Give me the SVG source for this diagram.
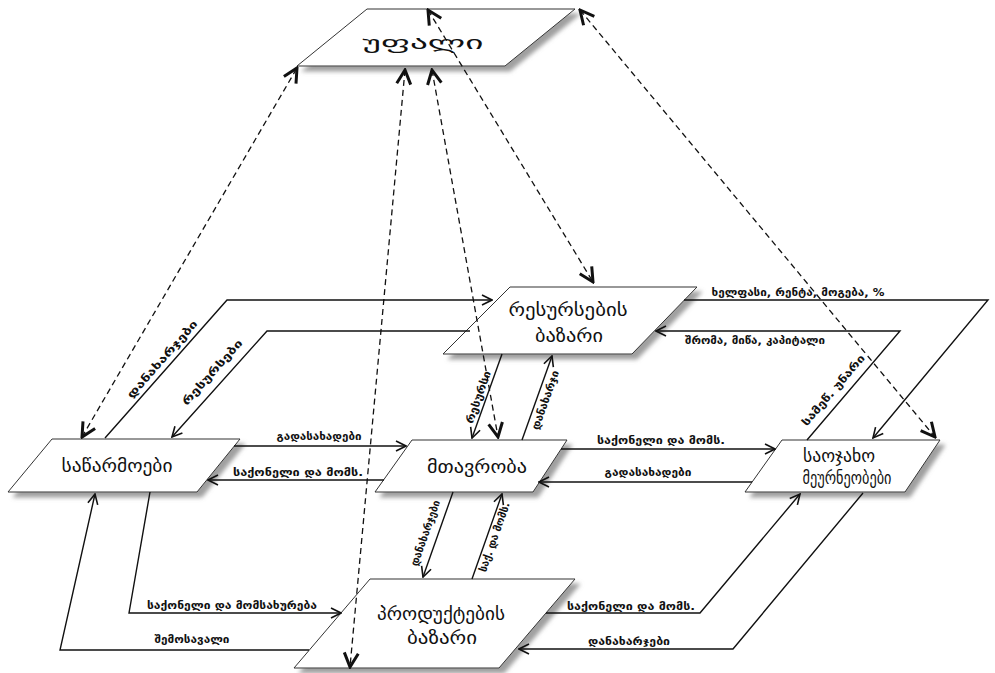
<svg xmlns="http://www.w3.org/2000/svg" width="995" height="673" viewBox="0 0 995 673">
<defs>
<style>
.node{fill:#fff;stroke:#333;stroke-width:1;filter:url(#sh)}
.nl{font-family:"DejaVu Sans",sans-serif;font-size:18px;fill:#111;text-anchor:middle}
.el{font-family:"DejaVu Sans",sans-serif;font-size:10.5px;font-weight:bold;fill:#111;text-anchor:middle}
.s{fill:none;stroke:#111;stroke-width:1.4;marker-end:url(#ah)}
.d{fill:none;stroke:#111;stroke-width:1.3;stroke-dasharray:6 4;marker-start:url(#bh);marker-end:url(#bh)}
</style>
<filter id="sh" x="-10%" y="-10%" width="130%" height="140%">
<feDropShadow dx="5" dy="5" stdDeviation="2" flood-color="#888" flood-opacity="0.8"/>
</filter>
<marker id="ah" viewBox="0 0 12 12" refX="11" refY="6" markerWidth="12" markerHeight="12" markerUnits="userSpaceOnUse" orient="auto">
<path d="M1,1 L11,6 L1,11" fill="none" stroke="#111" stroke-width="1.6"/>
</marker>
<marker id="bh" viewBox="0 0 18 18" refX="16" refY="9" markerWidth="18" markerHeight="18" markerUnits="userSpaceOnUse" orient="auto-start-reverse">
<path d="M2,2 L16,9 L2,16" fill="none" stroke="#111" stroke-width="3"/>
</marker>
</defs>
<rect width="995" height="673" fill="#fff"/>

<g id="node-upali">
<polygon class="node" points="367,9 575,9 505,66 297,66"/>
<text class="nl" x="423" y="49" font-size="31" textLength="121" lengthAdjust="spacingAndGlyphs">უფალი</text>
</g>
<g id="node-resource-market">
<polygon class="node" points="510,287 697,287 632,354 443,354"/>
<text class="nl" x="568" y="316" textLength="119" lengthAdjust="spacingAndGlyphs">რესურსების</text>
<text class="nl" x="569" y="342" textLength="68" lengthAdjust="spacingAndGlyphs">ბაზარი</text>
</g>
<g id="node-firms">
<polygon class="node" points="52,439 240,439 197,492 8,492"/>
<text class="nl" x="117" y="472" textLength="111" lengthAdjust="spacingAndGlyphs">საწარმოები</text>
</g>
<g id="node-government">
<polygon class="node" points="412,440 567,440 533,492 375,492"/>
<text class="nl" x="477" y="473" textLength="100" lengthAdjust="spacingAndGlyphs">მთავრობა</text>
</g>
<g id="node-households">
<polygon class="node" points="782,440 940,440 905,492 745,492"/>
<text class="nl" x="839" y="462" font-size="16" textLength="72" lengthAdjust="spacingAndGlyphs">საოჯახო</text>
<text class="nl" x="847" y="484" font-size="16" textLength="89" lengthAdjust="spacingAndGlyphs">მეურნეობები</text>
</g>
<g id="node-product-market">
<polygon class="node" points="370,579 575,579 499,668 294,668"/>
<text class="nl" x="441" y="620" font-size="16" textLength="128" lengthAdjust="spacingAndGlyphs">პროდუქტების</text>
<text class="nl" x="442" y="644" font-size="16" textLength="70" lengthAdjust="spacingAndGlyphs">ბაზარი</text>
</g>

<g id="connectors">
<polyline class="s" points="105,438 227,300 492,300"/>
<polyline class="s" points="470,331 267,331 172,437"/>
<polyline class="s" points="684,300 988,300 873,438"/>
<polyline class="s" points="807,440 900,331 656,331"/>
<line class="s" x1="234" y1="446" x2="406" y2="446"/>
<line class="s" x1="384" y1="480" x2="208" y2="480"/>
<line class="s" x1="561" y1="449" x2="775" y2="449"/>
<line class="s" x1="752" y1="482" x2="539" y2="482"/>
<line class="s" x1="502" y1="354" x2="472" y2="438"/>
<line class="s" x1="522" y1="440" x2="552" y2="356"/>
<line class="s" x1="453" y1="492" x2="423" y2="577"/>
<line class="s" x1="472" y1="579" x2="502" y2="494"/>
<polyline class="s" points="150,492 129,613 341,613"/>
<polyline class="s" points="309,650 60,650 95,494"/>
<polyline class="s" points="546,613 700,613 800,494"/>
<polyline class="s" points="863,493 733,649 519,649"/>

<line class="d" x1="82" y1="437" x2="297" y2="68"/>
<line class="d" x1="405" y1="70" x2="350" y2="667"/>
<line class="d" x1="432" y1="70" x2="498" y2="437"/>
<line class="d" x1="428" y1="10" x2="593" y2="282"/>
<line class="d" x1="580" y1="10" x2="935" y2="437"/>

<text class="el" x="798" y="296" textLength="173" lengthAdjust="spacingAndGlyphs">ხელფასი, რენტა, მოგება, %</text>
<text class="el" x="755" y="344" textLength="140" lengthAdjust="spacingAndGlyphs">შრომა, მიწა, კაპიტალი</text>
<text class="el" x="319" y="440" textLength="85" lengthAdjust="spacingAndGlyphs">გადასახადები</text>
<text class="el" x="298" y="476" textLength="130" lengthAdjust="spacingAndGlyphs">საქონელი და მომს.</text>
<text class="el" x="661" y="444" textLength="128" lengthAdjust="spacingAndGlyphs">საქონელი და მომს.</text>
<text class="el" x="648" y="476" textLength="87" lengthAdjust="spacingAndGlyphs">გადასახადები</text>
<text class="el" x="232" y="609" textLength="170" lengthAdjust="spacingAndGlyphs">საქონელი და მომსახურება</text>
<text class="el" x="192" y="643" textLength="75" lengthAdjust="spacingAndGlyphs">შემოსავალი</text>
<text class="el" x="631" y="610" textLength="128" lengthAdjust="spacingAndGlyphs">საქონელი და მომს.</text>
<text class="el" x="629" y="645" textLength="82" lengthAdjust="spacingAndGlyphs">დანახარჯები</text>

<text class="el" transform="translate(162,359) rotate(-48.5)" x="0" y="4" textLength="100" lengthAdjust="spacingAndGlyphs">დანახარჯები</text>
<text class="el" transform="translate(212,372) rotate(-48)" x="0" y="4" textLength="84" lengthAdjust="spacingAndGlyphs">რესურსები</text>
<text class="el" transform="translate(833,390) rotate(-49.3)" x="0" y="4" textLength="90" lengthAdjust="spacingAndGlyphs">სამეწ. უნარი</text>
<text class="el" transform="translate(478,397) rotate(-70.3)" x="0" y="4" textLength="55" lengthAdjust="spacingAndGlyphs">რესურსი</text>
<text class="el" transform="translate(545,400) rotate(-70.3)" x="0" y="4" textLength="62" lengthAdjust="spacingAndGlyphs">დანახარჯი</text>
<text class="el" transform="translate(425,533) rotate(-70.6)" x="0" y="4" textLength="69" lengthAdjust="spacingAndGlyphs">დანახარჯები</text>
<text class="el" transform="translate(494,537) rotate(-70.6)" x="0" y="4" textLength="73" lengthAdjust="spacingAndGlyphs">საქ. და მომს.</text>
</g>
</svg>
